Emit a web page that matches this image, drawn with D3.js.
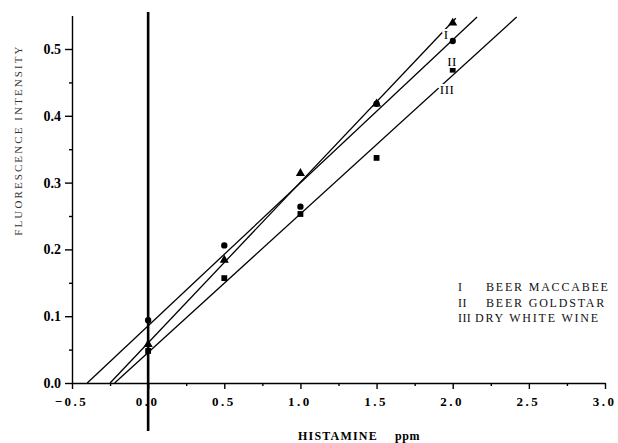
<!DOCTYPE html>
<html><head><meta charset="utf-8">
<script src="https://cdn.jsdelivr.net/npm/d3@7"></script>
<style>
body{margin:0;background:#fff;}
svg{display:block;}
text{font-family:"Liberation Serif","Times New Roman",serif;}
</style></head>
<body>
<svg id="chart" width="618" height="443"></svg>
<script>
// ---- data ----
const concentrations = [0, 0.5, 1.0, 1.5, 2.0];
const beerMaccabee  = [0.058, 0.184, 0.314, 0.418, 0.539];   // I, triangles
const beerGoldstar  = [0.094, 0.206, 0.264, 0.418, 0.512];   // II, circles
const dryWhiteWine  = [0.048, 0.157, 0.253, 0.337, 0.469];   // III, squares
const seriesNames = ["I", "II", "III"];
const legendNames = ["BEER MACCABEE", "BEER GOLDSTAR", "DRY WHITE WINE"];
const fitStartX = [-0.25, -0.40, -0.22];
const fitStartY = [0, 0, 0];
const fitEndX   = [2.02, 2.16, 2.42];
const fitEndY   = [0.546, 0.548, 0.548];
const lineLabelX = [1.957, 1.996, 1.963];
const lineLabelY = [0.521, 0.481, 0.439];
const xTicks = [-0.5, 0.0, 0.5, 1.0, 1.5, 2.0, 2.5, 3.0];
const xMinorTicks = [-0.25, 0.25, 0.75, 1.25, 1.75, 2.25, 2.75];
const yTicks = [0.0, 0.1, 0.2, 0.3, 0.4, 0.5];
const yMinorTicks = [0.05, 0.15, 0.25, 0.35, 0.45];

// ---- scales ----
const svg = d3.select("#chart");
const x = d3.scaleLinear().domain([-0.5, 3.0]).range([72, 605]);
const y = d3.scaleLinear().domain([0, 0.55]).range([383, 15.6]);

// x axis
const xAxis = svg.append("g").attr("transform", `translate(0,${y(0)})`);
xAxis.call(d3.axisBottom(x).tickValues(xTicks).tickSize(6).tickSizeOuter(0).tickFormat(d3.format(".1f")));
xAxis.append("g").call(d3.axisBottom(x).tickValues(xMinorTicks).tickSize(3).tickSizeOuter(0).tickFormat(""))
  .select(".domain").remove();
xAxis.selectAll("text").attr("font-size", 13).attr("font-weight", "bold")
  .attr("letter-spacing", 2.5).attr("dy", 14).attr("dx", -1)
  .style("font-family", '"Liberation Serif",serif').attr("fill", "#000");
xAxis.selectAll("path,line").attr("stroke", "#000").attr("stroke-width", 1.4);

// y axis
const yAxis = svg.append("g").attr("transform", `translate(${x(-0.5)},0)`);
yAxis.call(d3.axisLeft(y).tickValues(yTicks).tickSize(7).tickSizeOuter(0).tickFormat(d3.format(".1f")));
yAxis.append("g").call(d3.axisLeft(y).tickValues(yMinorTicks).tickSize(3).tickSizeOuter(0).tickFormat(""))
  .select(".domain").remove();
yAxis.selectAll("text").attr("font-size", 14).attr("font-weight", "bold").attr("dx", -1)
  .style("font-family", '"Liberation Serif",serif').attr("fill", "#000");
yAxis.selectAll("path,line").attr("stroke", "#000").attr("stroke-width", 1.4);

// thick zero line
svg.append("line")
  .attr("x1", x(0)).attr("x2", x(0))
  .attr("y1", 12).attr("y2", 431)
  .attr("stroke", "#000").attr("stroke-width", 2.6);

// fitted lines
const fits = seriesNames.map((n, i) => ({
  name: n, x0: fitStartX[i], y0: fitStartY[i], x1: fitEndX[i], y1: fitEndY[i]
}));
svg.append("g").selectAll("line").data(fits).join("line")
  .attr("x1", d => x(d.x0)).attr("y1", d => y(d.y0))
  .attr("x2", d => x(d.x1)).attr("y2", d => y(d.y1))
  .attr("stroke", "#000").attr("stroke-width", 1.3);

// markers
const seriesVals = [beerMaccabee, beerGoldstar, dryWhiteWine];
const shapes = [d3.symbolTriangle, d3.symbolCircle, d3.symbolSquare];
const sizes = [36, 32, 34];
seriesVals.forEach((vals, i) => {
  svg.append("g").selectAll("path").data(vals).join("path")
    .attr("transform", (d, j) => `translate(${x(concentrations[j])},${y(d)})`)
    .attr("d", d3.symbol().type(shapes[i]).size(sizes[i]))
    .attr("fill", "#000");
});

// line labels (with white gap)
svg.append("g").selectAll("text").data(seriesNames).join("text")
  .attr("x", (d, i) => x(lineLabelX[i])).attr("y", (d, i) => y(lineLabelY[i]))
  .attr("text-anchor", "middle").attr("dominant-baseline", "central")
  .attr("font-size", 13).attr("letter-spacing", 0.5)
  .attr("stroke", "#fff").attr("stroke-width", 4).attr("paint-order", "stroke")
  .attr("fill", "#000").text(d => d);

// legend
const nameOffsets = [28, 28, 17];
const legend = svg.append("g").selectAll("g").data(seriesNames).join("g")
  .attr("transform", (d, i) => `translate(458,${291 + i * 15.5})`);
legend.append("text").attr("font-size", 12).attr("letter-spacing", 0.4)
  .attr("fill", "#111").text(d => d);
legend.append("text").attr("x", (d, i) => nameOffsets[i])
  .attr("font-size", 12).attr("letter-spacing", 1.8)
  .attr("fill", "#111").text((d, i) => legendNames[i]);

// axis titles
svg.append("text")
  .attr("transform", `translate(22,140) rotate(-90)`)
  .attr("text-anchor", "middle").attr("font-size", 11).attr("letter-spacing", 2.1)
  .attr("fill", "#333").text("FLUORESCENCE INTENSITY");
svg.append("text")
  .attr("x", 298).attr("y", 440)
  .attr("font-size", 12).attr("font-weight", "bold").attr("letter-spacing", 1.2)
  .attr("fill", "#000").text("HISTAMINE");
svg.append("text")
  .attr("x", 395).attr("y", 440)
  .attr("font-size", 12).attr("font-weight", "bold").attr("letter-spacing", 0.6)
  .attr("fill", "#000").text("ppm");
</script>
</body></html>
